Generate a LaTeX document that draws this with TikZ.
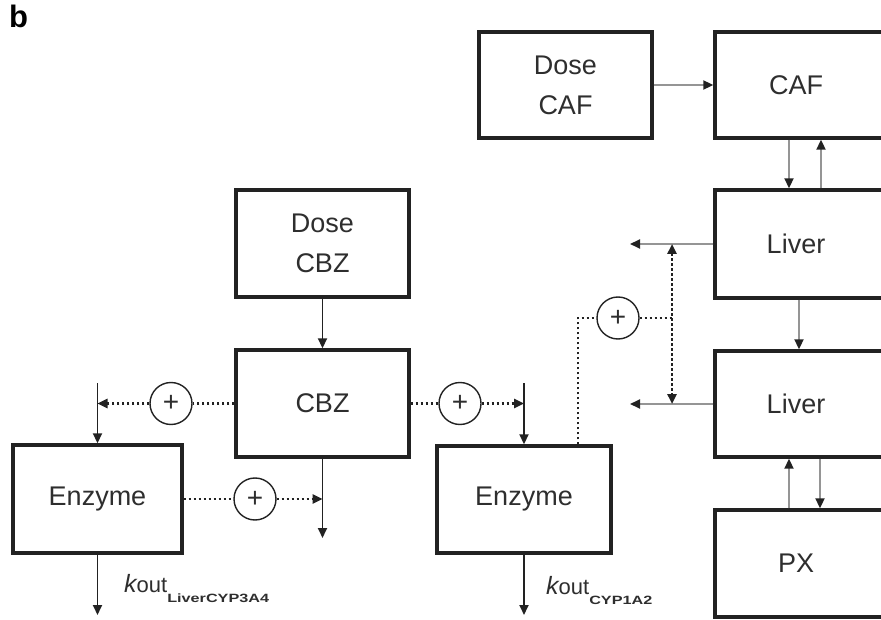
\documentclass[tikz,border=0pt]{standalone}
\usepackage{fontspec}
\usepackage{graphicx}
\setmainfont{Liberation Sans}
\usetikzlibrary{arrows.meta}
\definecolor{bordc}{HTML}{222222}
\definecolor{txtc}{HTML}{2E2E2E}
\definecolor{greyl}{HTML}{959595}
\newcommand{\koutlab}[1]{{\fontsize{25}{25}\selectfont\itshape k}{\fontsize{22}{22}\selectfont out}\raisebox{-10pt}{\scalebox{1.35}[1]{\fontsize{12}{12}\selectfont\bfseries #1}}}
\begin{document}
\begin{tikzpicture}[x=1pt,y=-1pt,
  box/.style={draw=bordc, line width=3.4pt, rectangle, inner sep=0pt,
    font=\fontsize{27}{40}\selectfont, text=txtc, align=center},
  lab/.style={font=\fontsize{27}{40}\selectfont, text=txtc, inner sep=0pt},
  plusc/.style={circle, draw=bordc, line width=1.4pt, minimum size=42pt, inner sep=0pt,
    font=\fontsize{28}{28}\selectfont, text=txtc},
  tip/.style={-{Triangle[length=10pt,width=9pt,color=bordc]}},
  garrow/.style={draw=greyl, line width=2pt, tip},
  darrow/.style={draw=bordc, line width=1.8pt, tip},
  dotline/.style={draw=bordc, line width=2.4pt, dash pattern=on 2.4pt off 2.6pt},
  dotarrow/.style={dotline, tip},
  klab/.style={text=txtc, inner sep=0pt, anchor=base west}
]
\useasboundingbox (0,0) rectangle (881,620);
\clip (0,0) rectangle (881,620);

% label b
\node[font=\fontsize{31}{31}\selectfont\bfseries, anchor=base west, inner sep=0pt] (blab) at (9,28) {b};

% right column (CAF / liver)
\node[box, minimum width=173pt, minimum height=106pt] (dosecaf) at (565.5,85) {Dose\\CAF};
\node[box, minimum width=190pt, minimum height=106pt, label={[lab,xshift=-14pt]center:CAF}] (caf) at (810,85) {};
\node[box, minimum width=190pt, minimum height=108pt, label={[lab,xshift=-14pt]center:Liver}] (liver1) at (810,244) {};
\node[box, minimum width=190pt, minimum height=106pt, label={[lab,xshift=-14pt]center:Liver}] (liver2) at (810,404) {};
\node[box, minimum width=190pt, minimum height=107pt, label={[lab,xshift=-14pt]center:PX}] (px) at (810,563.5) {};

% CBZ column
\node[box, minimum width=173pt, minimum height=107pt] (dosecbz) at (322.5,243.5) {Dose\\CBZ};
\node[box, minimum width=173pt, minimum height=107pt] (cbz) at (322.5,403.5) {CBZ};
\node[box, minimum width=169pt, minimum height=108pt] (enzL) at (97.5,499) {Enzyme};
\node[box, minimum width=174pt, minimum height=107pt] (enzR) at (524,499.5) {Enzyme};

% plus circles
\node[plusc] (pL1) at (171,403.5) {+};
\node[plusc] (pL2) at (255,499) {+};
\node[plusc] (pR1) at (460,403.5) {+};
\node[plusc] (pC) at (618,318) {+};

% free ends
\coordinate (l1out) at (630,244);
\coordinate (l2out) at (630,404);
\coordinate (d1) at (672,244);
\coordinate (d2) at (672,404);
\coordinate (dj) at (672,318);
\coordinate (cbzend) at (322.5,538);
\coordinate (cbzj) at (322.5,499);
\coordinate (lvtop) at (97.5,383);
\coordinate (lvj) at (97.5,403.5);
\coordinate (rvtop) at (524,383);
\coordinate (rvj) at (524,403.5);
\coordinate (lbot) at (97.5,615);
\coordinate (rbot) at (524,615);

% grey connectors
\draw[garrow] (dosecaf.east) -- (caf.west);
\draw[garrow] ([xshift=-21pt]caf.south) -- ([xshift=-21pt]liver1.north);
\draw[garrow] ([xshift=11pt]liver1.north) -- ([xshift=11pt]caf.south);
\draw[garrow] ([xshift=-11pt]liver1.south) -- ([xshift=-11pt]liver2.north);
\draw[garrow] ([xshift=10pt]liver2.south) -- ([xshift=10pt]px.north);
\draw[garrow] ([xshift=-21pt]px.north) -- ([xshift=-21pt]liver2.south);
\draw[garrow] (liver1.west) -- (l1out);
\draw[garrow] (liver2.west) -- (l2out);

% dotted feedback near liver
\draw[dotline, {Triangle[length=10pt,width=9pt,color=bordc]}-{Triangle[length=10pt,width=9pt,color=bordc]}] (d1) -- (d2);
\draw[dotline] (pC.east) -- (dj);
\draw[dotline] ([xshift=54pt]enzR.north) |- (pC.west);

% CBZ connectors
\draw[darrow] (dosecbz.south) -- (cbz.north);
\draw[darrow] (cbz.south) -- (cbzend);
\draw[darrow] (lvtop) -- (enzL.north);
\draw[dotline] (cbz.west) -- (pL1.east);
\draw[dotarrow] (pL1.west) -- (lvj);
\draw[dotline] (enzL.east) -- (pL2.west);
\draw[dotarrow] (pL2.east) -- (cbzj);
\draw[darrow] (rvtop) -- (enzR.north);
\draw[dotline] (cbz.east) -- (pR1.west);
\draw[dotarrow] (pR1.east) -- (rvj);
\draw[darrow] (enzL.south) -- (lbot);
\draw[darrow] (enzR.south) -- (rbot);

% kout labels
\node[klab] (kL) at (124,592) {\koutlab{LiverCYP3A4}};
\node[klab] (kR) at (546,594) {\koutlab{CYP1A2}};
\end{tikzpicture}
\end{document}
